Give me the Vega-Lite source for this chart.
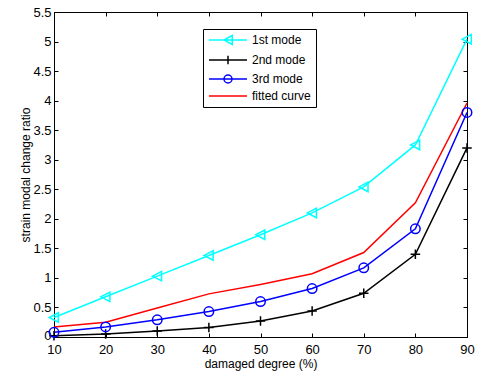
{
  "$schema": "https://vega.github.io/schema/vega-lite/v6.json",
  "autosize": "none",
  "width": 413,
  "height": 325,
  "padding": {"left": 54, "top": 12, "right": 16, "bottom": 37},
  "background": "white",
  "config": {
    "font": "Liberation Sans",
    "view": {"stroke": "black", "strokeWidth": 1},
    "axis": {"grid": false, "labelFlush": false, "domainColor": "black", "tickColor": "black", "labelColor": "black", "titleColor": "black", "labelFont": "Liberation Sans", "titleFont": "Liberation Sans", "titleFontWeight": "normal"}
  },
  "data": {"values": [
    {"x": 10, "value": 0.33, "series": "1st mode"},
    {"x": 20, "value": 0.68, "series": "1st mode"},
    {"x": 30, "value": 1.03, "series": "1st mode"},
    {"x": 40, "value": 1.38, "series": "1st mode"},
    {"x": 50, "value": 1.73, "series": "1st mode"},
    {"x": 60, "value": 2.1, "series": "1st mode"},
    {"x": 70, "value": 2.54, "series": "1st mode"},
    {"x": 80, "value": 3.25, "series": "1st mode"},
    {"x": 90, "value": 5.04, "series": "1st mode"},
    {"x": 10, "value": 0.02, "series": "2nd mode"},
    {"x": 20, "value": 0.05, "series": "2nd mode"},
    {"x": 30, "value": 0.1, "series": "2nd mode"},
    {"x": 40, "value": 0.16, "series": "2nd mode"},
    {"x": 50, "value": 0.27, "series": "2nd mode"},
    {"x": 60, "value": 0.44, "series": "2nd mode"},
    {"x": 70, "value": 0.74, "series": "2nd mode"},
    {"x": 80, "value": 1.4, "series": "2nd mode"},
    {"x": 90, "value": 3.2, "series": "2nd mode"},
    {"x": 10, "value": 0.08, "series": "3rd mode"},
    {"x": 20, "value": 0.17, "series": "3rd mode"},
    {"x": 30, "value": 0.29, "series": "3rd mode"},
    {"x": 40, "value": 0.43, "series": "3rd mode"},
    {"x": 50, "value": 0.6, "series": "3rd mode"},
    {"x": 60, "value": 0.82, "series": "3rd mode"},
    {"x": 70, "value": 1.17, "series": "3rd mode"},
    {"x": 80, "value": 1.83, "series": "3rd mode"},
    {"x": 90, "value": 3.8, "series": "3rd mode"},
    {"x": 10, "value": 0.17, "series": "fitted curve"},
    {"x": 20, "value": 0.25, "series": "fitted curve"},
    {"x": 30, "value": 0.49, "series": "fitted curve"},
    {"x": 40, "value": 0.73, "series": "fitted curve"},
    {"x": 50, "value": 0.89, "series": "fitted curve"},
    {"x": 60, "value": 1.07, "series": "fitted curve"},
    {"x": 70, "value": 1.43, "series": "fitted curve"},
    {"x": 80, "value": 2.27, "series": "fitted curve"},
    {"x": 90, "value": 3.96, "series": "fitted curve"}
  ]},
  "layer": [
    {
      "mark": {"type": "line", "strokeWidth": 1.5},
      "encoding": {
        "x": {"field": "x", "type": "quantitative", "scale": {"domain": [10, 90], "nice": false, "zero": false},
              "axis": {"orient": "bottom", "values": [10,20,30,40,50,60,70,80,90], "title": "damaged degree (%)", "titleFontSize": 12, "labelFontSize": 13, "tickSize": -4, "labelPadding": 10, "titlePadding": 2, "domain": true}},
        "y": {"field": "value", "type": "quantitative", "scale": {"domain": [0, 5.5], "nice": false},
              "axis": {"orient": "left", "values": [0,0.5,1,1.5,2,2.5,3,3.5,4,4.5,5,5.5], "format": "~g", "title": "strain modal change ratio", "titleFontSize": 12, "labelFontSize": 13, "tickSize": -4, "labelPadding": 7, "titlePadding": 0,
                       "labelOffset": {"condition": {"test": "datum.value === 0", "value": -2}, "value": 0}}},
        "color": {"field": "series", "type": "nominal", "scale": {"domain": ["1st mode", "2nd mode", "3rd mode", "fitted curve"], "range": ["#00FFFF", "#000000", "#0000FF", "#FF0000"]}, "legend": null},
        "detail": {"field": "series"}
      }
    },
    {
      "transform": [{"filter": "datum.series !== 'fitted curve'"}],
      "mark": {"type": "point", "filled": false, "strokeWidth": 1.5, "size": 90, "opacity": 1},
      "encoding": {
        "x": {"field": "x", "type": "quantitative", "axis": {"orient": "top", "values": [10,20,30,40,50,60,70,80,90], "labels": false, "title": null, "tickSize": -4}},
        "y": {"field": "value", "type": "quantitative", "axis": {"orient": "right", "values": [0,0.5,1,1.5,2,2.5,3,3.5,4,4.5,5,5.5], "labels": false, "title": null, "tickSize": -4}},
        "color": {"field": "series", "type": "nominal", "scale": {"domain": ["1st mode", "2nd mode", "3rd mode"], "range": ["#00FFFF", "#000000", "#0000FF"]}, "legend": null},
        "shape": {"field": "series", "type": "nominal", "scale": {"domain": ["1st mode", "2nd mode", "3rd mode"], "range": ["M0.9,-1L-1,0L0.9,1Z", "M-1,0H1M0,-1V1", "circle"]}, "legend": null}
      }
    },
    {
      "mark": {"type": "point", "filled": false, "opacity": 0, "size": 80},
      "encoding": {
        "x": {"field": "x", "type": "quantitative", "axis": null},
        "y": {"field": "value", "type": "quantitative", "axis": null},
        "color": {"field": "series", "type": "nominal", "scale": {"domain": ["1st mode", "2nd mode", "3rd mode", "fitted curve"], "range": ["#00FFFF", "#000000", "#0000FF", "#FF0000"]},
                  "legend": {"orient": "none", "legendX": 149, "legendY": 17, "title": null, "symbolSize": 100, "symbolStrokeWidth": 1.5, "symbolOpacity": 1, "symbolOffset": 14, "labelFontSize": 12, "labelColor": "black", "labelOffset": 18, "padding": 5, "strokeColor": "black", "fillColor": "white", "rowPadding": 4}},
        "shape": {"field": "series", "type": "nominal", "scale": {"domain": ["1st mode", "2nd mode", "3rd mode", "fitted curve"], "range": ["M-3.8,0H3.8M0.85,-0.9L-0.8,0L0.85,0.9Z", "M-3.8,0H3.8M0,-0.85V0.85", "M-3.8,0H3.8M0.8,0A0.8,0.8 0 1 1 -0.8,0A0.8,0.8 0 1 1 0.8,0", "M-3.8,0H3.8"]},
                  "legend": {"orient": "none", "legendX": 149, "legendY": 17, "title": null, "symbolSize": 100, "symbolStrokeWidth": 1.5, "symbolOpacity": 1, "symbolOffset": 14, "labelFontSize": 12, "labelColor": "black", "labelOffset": 18, "padding": 5, "strokeColor": "black", "fillColor": "white", "rowPadding": 4}}
      }
    }
  ],
  "resolve": {"scale": {"shape": "independent", "color": "independent"}, "axis": {"x": "independent", "y": "independent"}}
}
